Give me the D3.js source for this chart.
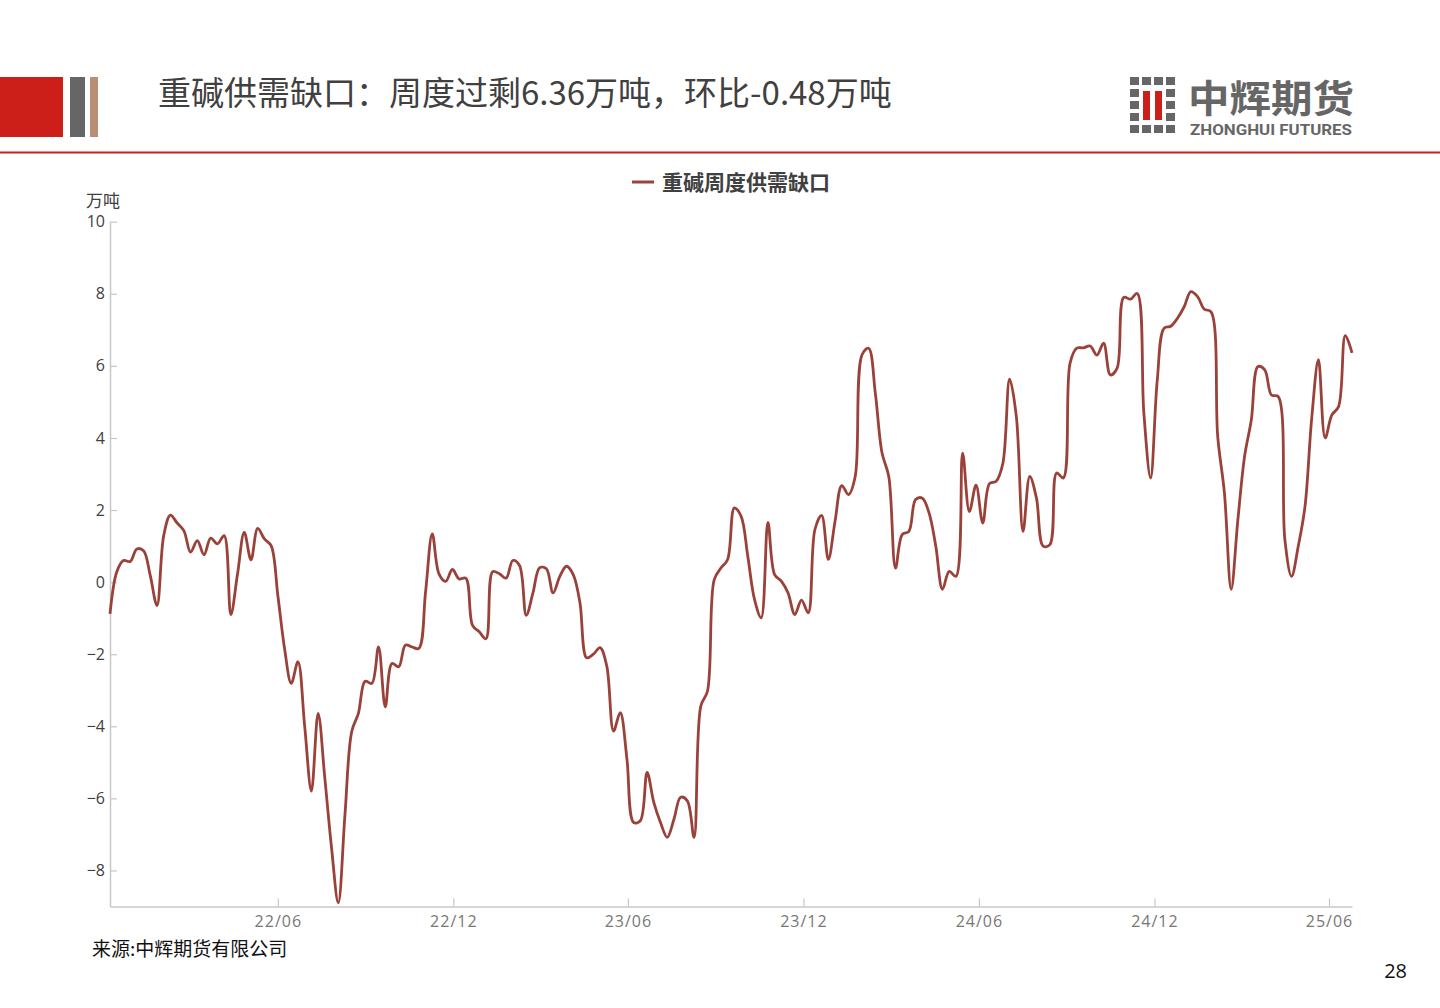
<!DOCTYPE html>
<html><head><meta charset="utf-8">
<script src="https://cdn.jsdelivr.net/npm/d3@7"></script>
<style>
body{margin:0;background:#fff;}
svg{display:block;font-family:"Noto Sans CJK SC","Noto Sans",sans-serif;}
</style>
</head><body><svg id="c" width="1440" height="1008"></svg>
<script>
// ---------- data ----------
const startDate = "2021-12-08";           // first weekly observation
const values = [
-0.88, 0.28, 0.6, 0.57, 0.92, 0.87, 0.18, -0.65, 1.29, 1.86,
1.64, 1.43, 0.83, 1.15, 0.76, 1.22, 1.06, 1.29, -0.9, 0.23,
1.38, 0.62, 1.49, 1.2, 1.01, -0.37, -1.84, -2.81, -2.21, -4.0,
-5.8, -3.64, -5.44, -7.37, -8.9, -6.45, -4.15, -3.64, -2.75, -2.81,
-1.8, -3.46, -2.26, -2.35, -1.75, -1.8, -1.84, -0.28, 1.34, 0.23,
0.02, 0.35, 0.09, 0.11, -1.2, -1.38, -1.57, 0.29, 0.23, 0.11,
0.6, 0.46, -0.92, -0.3, 0.4, 0.37, -0.3, 0.16, 0.44, 0.21,
-0.57, -2.1, -2.0, -1.82, -2.33, -4.13, -3.62, -4.91, -6.67, -6.62,
-5.28, -6.11, -6.67, -7.08, -6.58, -5.97, -6.07, -7.08, -3.44, -3.02,
0.07, 0.39, 0.63, 2.06, 1.83, 0.72, -0.48, -0.99, 1.66, 0.21,
0.03, -0.3, -0.9, -0.5, -0.85, 1.46, 1.85, 0.63, 1.69, 2.68,
2.43, 2.93, 6.3, 6.49, 5.24, 3.58, 2.93, 0.39, 1.32, 1.41,
2.29, 2.33, 1.92, 1.0, -0.2, 0.3, 0.16, 3.58, 1.96, 2.69,
1.64, 2.73, 2.8, 3.3, 5.63, 4.6, 1.41, 2.93, 2.33, 1.0,
1.04, 3.03, 2.89, 6.07, 6.49, 6.5, 6.55, 6.3, 6.63, 5.75,
5.93, 7.9, 7.85, 8.01, 4.68, 2.89, 5.62, 7.04, 7.1, 7.32,
7.64, 8.06, 7.92, 7.57, 7.5, 4.04, 2.47, -0.2, 1.73, 3.49,
4.5, 5.98, 5.89, 5.19, 5.15, 1.18, 0.16, 1.0, 2.1, 4.55,
6.17, 4.0, 4.64, 4.87, 6.84, 6.36
];
const yTicks = [-8, -6, -4, -2, 0, 2, 4, 6, 8, 10];
const xTickDates = ["2022-06-01","2022-12-01","2023-06-01","2023-12-01","2024-06-01","2024-12-01","2025-06-01"];
const seriesName = "重碱周度供需缺口";
const titleText = "重碱供需缺口：周度过剩6.36万吨，环比-0.48万吨";
const unitText = "万吨";
const sourceText = "来源:中辉期货有限公司";
const pageNo = "28";
const logoCn = "中辉期货";
const logoEn = "ZHONGHUI FUTURES";

// ---------- build ----------
const svg = d3.select("#c");
const parse = d3.utcParse("%Y-%m-%d");
const t0 = parse(startDate);
const data = values.map((v, i) => ({ d: d3.utcDay.offset(t0, 7 * i), v }));

const RED = "#CC1F1A", LINE = "#9A423A";

// header decoration
svg.append("rect").attr("x", 0).attr("y", 77).attr("width", 63).attr("height", 60).attr("fill", RED);
svg.append("rect").attr("x", 70).attr("y", 77).attr("width", 15).attr("height", 60).attr("fill", "#666666");
svg.append("rect").attr("x", 90).attr("y", 77).attr("width", 8).attr("height", 60).attr("fill", "#B98E72");
svg.append("rect").attr("x", 0).attr("y", 151.5).attr("width", 1440).attr("height", 2).attr("fill", RED);

svg.append("text").attr("x", 158).attr("y", 91).attr("dominant-baseline", "central")
  .attr("font-size", 33).attr("fill", "#404040").text(titleText);

// logo
const logo = svg.append("g");
const cols = [1130, 1142, 1154, 1166];
const rows = [77, 89, 101, 113, 125];
rows.forEach((ry, ri) => cols.forEach((cx, ci) => {
  const mid = (ci === 1 || ci === 2) && ri >= 1 && ri <= 3;
  if (mid) return;
  logo.append("rect").attr("x", cx).attr("y", ry).attr("width", 9).attr("height", 8).attr("fill", "#666666");
}));
[1142, 1154].forEach(cx => logo.append("rect").attr("x", cx + 1).attr("y", 91).attr("width", 7).attr("height", 29).attr("fill", RED));
logo.append("text").attr("x", 1188).attr("y", 95).attr("dominant-baseline", "central")
  .attr("font-size", 38).attr("font-weight", 700).attr("fill", "#666666")
  .attr("textLength", 166).attr("lengthAdjust", "spacingAndGlyphs").text(logoCn);
logo.append("text").attr("x", 1190).attr("y", 129.5).attr("dominant-baseline", "central")
  .attr("font-family", "Roboto, 'Open Sans', sans-serif")
  .attr("font-size", 14).attr("font-weight", 700).attr("fill", "#666666")
  .attr("textLength", 162).attr("lengthAdjust", "spacingAndGlyphs").text(logoEn);

// scales
const x = d3.scaleUtc().domain(d3.extent(data, d => d.d)).range([110, 1352]);
const y = d3.scaleLinear().domain([-9, 10]).range([906.5, 221.7]);

// y axis
const gy = svg.append("g").attr("transform", "translate(110,0)")
  .call(d3.axisRight(y).tickValues(yTicks).tickSize(7).tickSizeOuter(0).tickFormat(d3.format("d")));
gy.select(".domain").attr("stroke", "#c8c8c8").attr("stroke-width", 1.5);
gy.selectAll(".tick line").attr("stroke", "#c8c8c8").attr("stroke-width", 1.2);
gy.selectAll(".tick text").attr("x", -5).attr("text-anchor", "end")
  .attr("font-size", 16).attr("fill", "#404040").attr("font-family", "'Open Sans','Noto Sans',sans-serif");

// x axis
const gx = svg.append("g").attr("transform", "translate(0,906.5)")
  .call(d3.axisTop(x).tickValues(xTickDates.map(parse)).tickSize(8).tickSizeOuter(0)
    .tickFormat(d3.utcFormat("%y/%m")));
gx.select(".domain").attr("stroke", "#c8c8c8").attr("stroke-width", 1.5);
gx.selectAll(".tick line").attr("stroke", "#c8c8c8").attr("stroke-width", 1.2);
gx.selectAll(".tick text").attr("y", 15).attr("dy", "0.32em").attr("text-anchor", "middle")
  .attr("font-size", 16).attr("fill", "#777777").attr("letter-spacing", 1)
  .attr("font-family", "'Open Sans','Noto Sans',sans-serif");

// unit
svg.append("text").attr("x", 86).attr("y", 199).attr("dominant-baseline", "central")
  .attr("font-size", 17).attr("fill", "#404040").text(unitText);

// line
const line = d3.line().x(d => x(d.d)).y(d => y(d.v)).curve(d3.curveCatmullRom.alpha(0.5));
svg.append("path").datum(data).attr("d", line).attr("fill", "none")
  .attr("stroke", LINE).attr("stroke-width", 2.8).attr("stroke-linejoin", "round");

// legend
svg.append("line").attr("x1", 632).attr("x2", 654).attr("y1", 182).attr("y2", 182)
  .attr("stroke", LINE).attr("stroke-width", 3);
svg.append("text").attr("x", 662).attr("y", 181).attr("dominant-baseline", "central")
  .attr("font-size", 21).attr("font-weight", 700).attr("fill", "#404040").text(seriesName);

// footer
svg.append("text").attr("x", 92).attr("y", 947).attr("dominant-baseline", "central")
  .attr("font-size", 19).attr("fill", "#111").text(sourceText);
svg.append("text").attr("x", 1407).attr("y", 970).attr("dominant-baseline", "central")
  .attr("text-anchor", "end").attr("font-size", 20).attr("fill", "#111")
  .attr("font-family", "'Open Sans','Noto Sans',sans-serif").text(pageNo);
</script>
</body></html>
